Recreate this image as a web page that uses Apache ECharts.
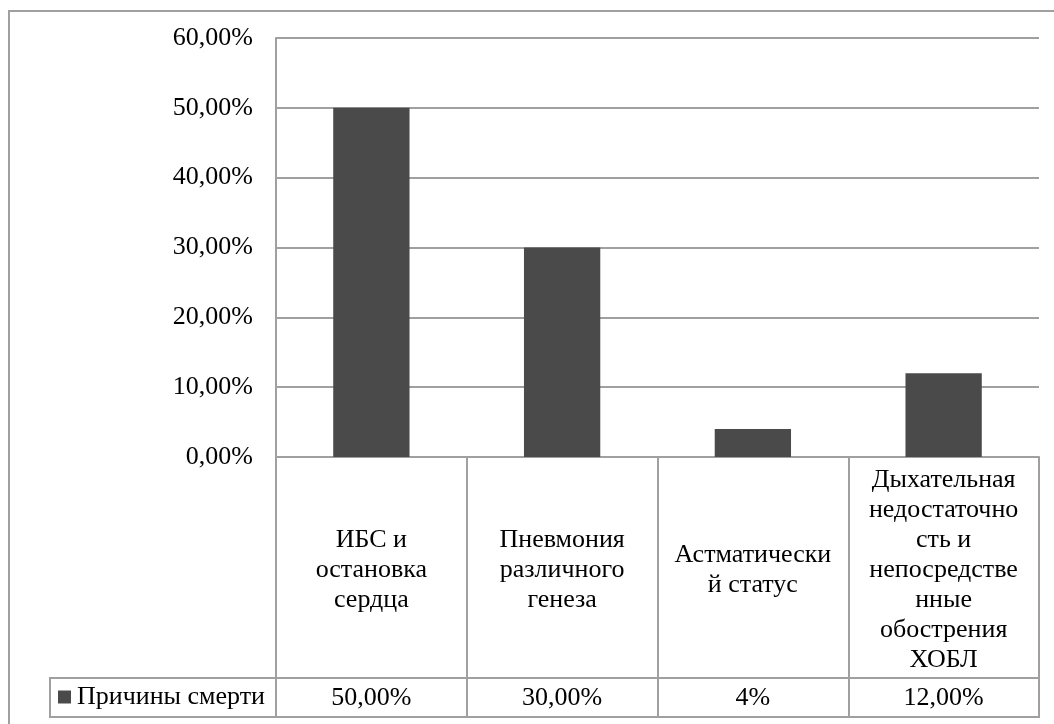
<!DOCTYPE html>
<html>
<head>
<meta charset="utf-8">
<script src="https://cdn.jsdelivr.net/npm/echarts@6/dist/echarts.min.js"></script>
<style>
  html, body { margin: 0; padding: 0; background: #fff; }
  #chart { width: 1054px; height: 724px; }
</style>
</head>
<body>
<div id="chart"></div>
<script>
// Categories as they wrap inside the data-table cells
const categories = [
  'ИБС и\nостановка\nсердца',
  'Пневмония\nразличного\nгенеза',
  'Астматически\nй статус',
  'Дыхательная\nнедостаточно\nсть и\nнепосредстве\nнные\nобострения\nХОБЛ'
];
const seriesName = 'Причины смерти';
const values = [0.50, 0.30, 0.04, 0.12];
// decimals shown for each value in the table row
const valueDecimals = [2, 2, 0, 2];
const yTicks = { min: 0, max: 0.6, interval: 0.1 };

const FONT = '"Liberation Serif", serif';
const FS = 26;
const LINE = '#a0a0a0';
const BAR = '#4a4a4a';

function pct(v, d) {
  return (v * 100).toFixed(d).replace('.', ',') + '%';
}

const chart = echarts.init(document.getElementById('chart'), null, { renderer: 'canvas' });

chart.setOption({
  animation: false,
  backgroundColor: '#fff',
  grid: { left: 276, top: 38, right: 15, bottom: 267, containLabel: false },
  legend: {
    data: [seriesName],
    left: 58, top: 684, padding: 0,
    icon: 'rect', itemWidth: 13, itemHeight: 13, itemGap: 6,
    textStyle: { fontFamily: FONT, fontSize: FS, color: '#000', padding: [0, 0, 0, 1] }
  },
  xAxis: [
    {
      type: 'category',
      data: categories,
      position: 'bottom',
      axisLine: { show: true, lineStyle: { color: LINE, width: 2 } },
      axisTick: { show: true, length: 260, lineStyle: { color: LINE, width: 2 } },
      axisLabel: {
        interval: 0, margin: 113, verticalAlign: 'middle',
        fontFamily: FONT, fontSize: FS, lineHeight: 30, color: '#000', align: 'center'
      },
      splitLine: { show: false }
    },
    {
      type: 'category',
      data: categories,
      position: 'bottom',
      offset: 221,
      axisLine: { show: true, lineStyle: { color: LINE, width: 2 } },
      axisTick: { show: false },
      axisLabel: {
        interval: 0, margin: 20, verticalAlign: 'middle',
        fontFamily: FONT, fontSize: FS, color: '#000',
        formatter: (v, i) => pct(values[i], valueDecimals[i])
      },
      splitLine: { show: false }
    }
  ],
  yAxis: {
    type: 'value',
    min: yTicks.min, max: yTicks.max, interval: yTicks.interval,
    axisLine: { show: true, lineStyle: { color: LINE, width: 2 } },
    axisTick: { show: false },
    axisLabel: {
      margin: 23, fontFamily: FONT, fontSize: FS, color: '#000',
      formatter: v => pct(v, 2)
    },
    splitLine: { show: true, lineStyle: { color: LINE, width: 2 } }
  },
  series: [{
    name: seriesName,
    type: 'bar',
    data: values,
    barWidth: '40%',
    itemStyle: { color: BAR }
  }],
  graphic: [
    // outer chart frame
    { type: 'rect', shape: { x: 9, y: 11, width: 1100, height: 800 },
      style: { fill: 'none', stroke: LINE, lineWidth: 2 }, silent: true },
    // legend cell of the data table
    { type: 'line', shape: { x1: 50, y1: 678, x2: 276, y2: 678 },
      style: { stroke: LINE, lineWidth: 2 }, silent: true },
    { type: 'line', shape: { x1: 50, y1: 717, x2: 1040, y2: 717 },
      style: { stroke: LINE, lineWidth: 2 }, silent: true },
    { type: 'line', shape: { x1: 50, y1: 677, x2: 50, y2: 718 },
      style: { stroke: LINE, lineWidth: 2 }, silent: true }
  ]
});
</script>
</body>
</html>
